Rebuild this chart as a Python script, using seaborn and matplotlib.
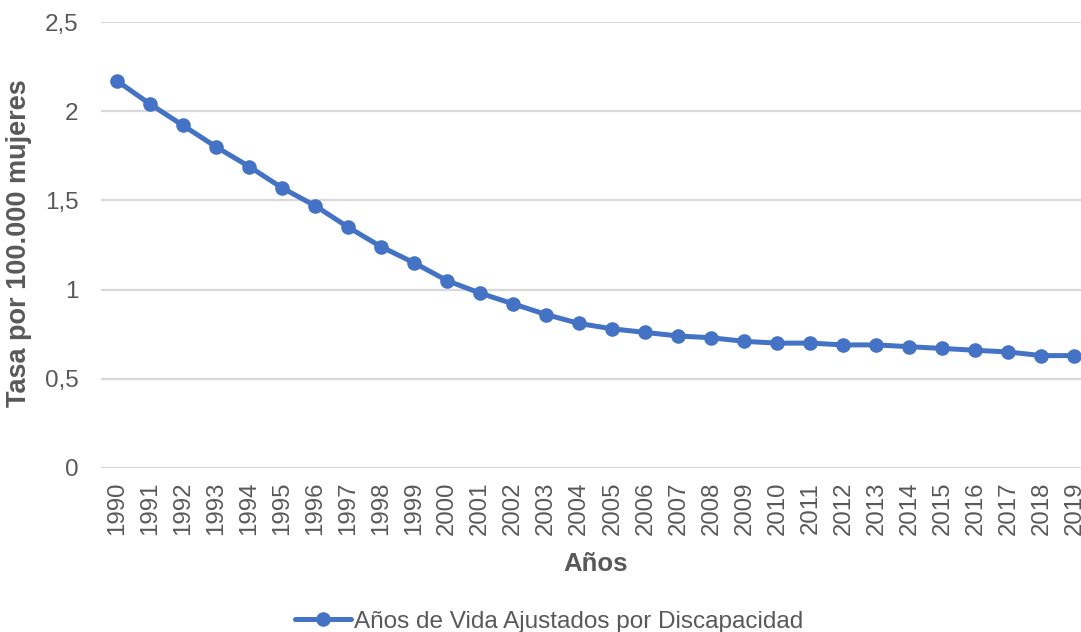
import matplotlib
matplotlib.use("Agg")
import matplotlib.pyplot as plt
import seaborn as sns
import pandas as pd

years = list(range(1990, 2020))
tasa = [2.17, 2.04, 1.92, 1.80, 1.69, 1.57, 1.47, 1.35, 1.24, 1.15,
        1.05, 0.98, 0.92, 0.86, 0.81, 0.78, 0.76, 0.74, 0.73, 0.71,
        0.70, 0.70, 0.69, 0.69, 0.68, 0.67, 0.66, 0.65, 0.63, 0.63]
serie = "Años de Vida Ajustados por Discapacidad"
y_ticks = [0, 0.5, 1, 1.5, 2, 2.5]
y_tick_labels = ["0", "0,5", "1", "1,5", "2", "2,5"]

sns.set_theme(style="white")
plt.rcParams["font.family"] = ["Liberation Sans", "DejaVu Sans"]

text_color = "#595959"
line_color = "#4472C4"
grid_color = "#D9D9D9"

df = pd.DataFrame({"Año": years, "Tasa": tasa, "Serie": serie})

fig = plt.figure(figsize=(10.81, 6.32), dpi=100)
ax = fig.add_axes([100.5 / 1081, 1 - 468 / 632, 990.5 / 1081, 446 / 632])

sns.lineplot(data=df, x="Año", y="Tasa", hue="Serie", palette=[line_color],
             marker="o", markersize=10.5, markeredgewidth=0, linewidth=3.6,
             ax=ax, legend=True)

ax.set_xlim(1989.5, 2019.5)
ax.set_ylim(0, 2.5)
ax.set_xticks(years)
ax.set_xticklabels([str(y) for y in years], rotation=90, fontsize=17.3,
                   color=text_color)
ax.set_yticks(y_ticks)
ax.set_yticklabels(y_tick_labels, fontsize=17.5, color=text_color)
ax.tick_params(axis="y", length=0, pad=16)
ax.tick_params(axis="x", length=0, pad=10)

ax.grid(axis="y", color=grid_color, linewidth=1.6)
ax.grid(axis="x", visible=False)
ax.set_axisbelow(True)
for s in ax.spines.values():
    s.set_visible(False)

ax.set_xlabel("Años", fontsize=18.5, fontweight="bold", color=text_color,
              labelpad=12)
ax.set_ylabel("Tasa por 100.000 mujeres", fontsize=19.5, fontweight="bold",
              color=text_color)
ax.yaxis.set_label_coords(-0.069, 0.505)

handles, labels = ax.get_legend_handles_labels()
ax.get_legend().remove()
fig.legend(handles, labels, loc="center", bbox_to_anchor=(0.508, 0.016),
           frameon=False, fontsize=17.5, labelcolor=text_color,
           handlelength=2.3, handletextpad=0.1)

fig.savefig("out.png", dpi=100)
